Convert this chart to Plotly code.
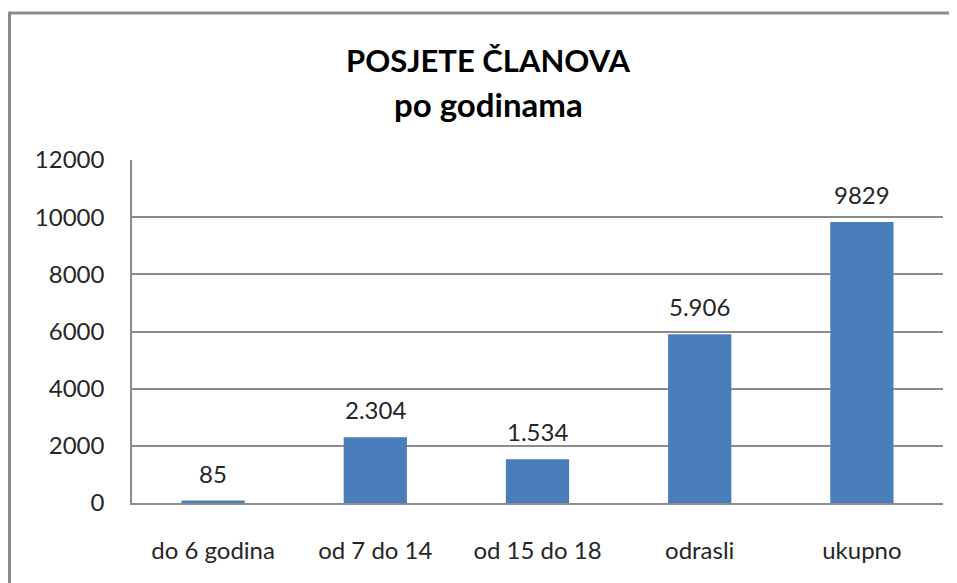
import plotly.graph_objects as go

categories = ["do 6 godina", "od 7 do 14", "od 15 do 18", "odrasli", "ukupno"]
values = [85, 2304, 1534, 5906, 9829]
value_labels = ["85", "2.304", "1.534", "5.906", "9829"]
y_ticks = [0, 2000, 4000, 6000, 8000, 10000, 12000]
title_lines = ["POSJETE ČLANOVA", "po godinama"]

# page body adds an 8px offset; margins are expressed in figure coordinates
W, H = 957, 583
L, R, T, B = 124, 22, 152, 88
pw, ph = W - L - R, H - T - B

FONT = "Lato"
TXT = "#262626"
TITLE_X = (480 - L) / pw  # title centred on the chart frame, not the plot area

fig = go.Figure()
fig.add_trace(go.Bar(
    x=categories, y=values,
    marker=dict(color="#4A7EBB", line=dict(width=0)),
    width=0.39, hoverinfo="x+y",
))

for c, v, t in zip(categories, values, value_labels):
    fig.add_annotation(x=c, y=v, text=t, showarrow=False, yanchor="bottom",
                       yshift=11, font=dict(family=FONT, size=24, color=TXT))

# title lines
fig.add_annotation(x=TITLE_X, xref="paper", y=1 + (T - 52) / ph, yref="paper",
                   text="<b>" + title_lines[0] + "</b>", showarrow=False,
                   xanchor="center", yanchor="middle",
                   font=dict(family=FONT, size=31, color="#000"))
fig.add_annotation(x=TITLE_X, xref="paper", y=1 + (T - 96) / ph, yref="paper",
                   text="<b>" + title_lines[1] + "</b>", showarrow=False,
                   xanchor="center", yanchor="middle",
                   font=dict(family=FONT, size=33, color="#000"))

# outer chart frame
fig.add_shape(type="rect", xref="paper", yref="paper",
              x0=(1.5 - L) / pw, x1=1 + (R + 10) / pw,
              y0=-(B + 10) / ph, y1=1 + (T - 5) / ph,
              line=dict(color="#8C8C8C", width=3), fillcolor="rgba(0,0,0,0)",
              layer="below")

fig.update_layout(
    width=W, height=H,
    margin=dict(l=L, r=R, t=T, b=B, pad=0),
    paper_bgcolor="white", plot_bgcolor="white",
    showlegend=False,
    bargap=0.61,
    xaxis=dict(
        showgrid=False, showline=True, linecolor="#8C8C8C", linewidth=1.5,
        ticks="", tickfont=dict(family=FONT, size=24, color=TXT),
        ticklabelstandoff=25,
    ),
    yaxis=dict(
        range=[0, 12000], tickvals=y_ticks, ticktext=[str(v) for v in y_ticks],
        showgrid=True, gridcolor="#8C8C8C", gridwidth=1.5,
        showline=True, linecolor="#8C8C8C", linewidth=1.5,
        zeroline=False, ticks="",
        tickfont=dict(family=FONT, size=24, color=TXT),
        ticklabelstandoff=21,
    ),
)

fig.write_html("out.html")
